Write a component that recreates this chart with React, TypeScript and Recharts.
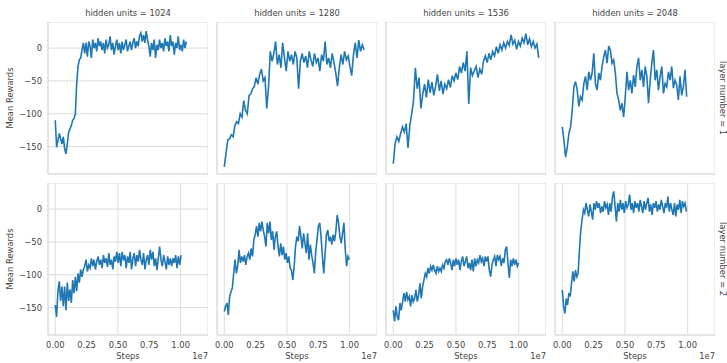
import { LineChart, Line, XAxis, YAxis, CartesianGrid } from "recharts";

// facet values
const hiddenUnits = [1024, 1280, 1536, 2048];
const layerNumbers = [1, 2];
const xTicks = [0, 0.25, 0.5, 0.75, 1.0];
const yTicks = [-150, -100, -50, 0];

// mean rewards, layer number = 1
const l1h1024 = [
  -110, -151, -141, -130, -138, -146, -135, -153, -161, -146,
  -128, -123, -118, -110, -107, -100, -54, -28, -18, -15,
  -3, 8, -8, 8, -13, 10, 3, -15, 13, 0,
  8, -5, 15, 3, 10, -3, 8, -8, 13, 0,
  5, 18, -3, 8, -10, 3, 13, -3, 8, -8,
  10, -3, 5, 13, -5, 3, 10, -3, 8, 15,
  0, 10, 3, 18, 23, 10, 20, 8, 26, 13,
  3, -13, 8, -3, 13, -15, 5, -3, 13, 0,
  8, -5, 15, 3, 10, -5, 20, 3, 10, -10,
  8, 0, 18, -3, 5, -5, 13, 0, 10,
];
const l1h1280 = [
  -181, -160, -140, -138, -132, -135, -118, -112, -115, -100,
  -105, -80, -95, -100, -72, -70, -62, -58, -45, -55,
  -40, -32, -50, -45, -92, -60, -5, -20, -8, 10,
  -25, -10, -30, 8, -15, -35, -5, -20, -10, -25,
  -5, -15, -62, -20, -8, -22, -12, -30, -5, -18,
  -28, -8, -22, -15, -35, -10, -20, 10, -25, -15,
  -30, -8, -22, -38, -58, -30, -10, -25, -5, -18,
  -12, -28, -42, -10, 8, -15, 12, -5, 5, -3,
];
const l1h1536 = [
  -176, -145, -135, -142, -130, -120, -128, -115, -152, -118,
  -100, -80, -30, -62, -45, -92, -70, -55, -75, -48,
  -68, -52, -72, -58, -40, -65, -50, -70, -55, -62,
  -48, -60, -42, -50, -38, -48, -28, -38, -22, -35,
  -5, -85, -30, -42, -35, -28, -45, -32, -40, -20,
  -12, -22, -8, -18, -5, -12, 2, -8, 5, -3,
  8, 0, 10, 4, 20, 6, 12, -2, 10, 3,
  15, 8, 22, 5, 14, 2, 10, 0, 6, -15,
];
const l1h2048 = [
  -120, -141, -166, -151, -130, -120, -95, -59, -51, -64,
  -89, -74, -79, -54, -43, -64, -36, -49, -38, -8,
  -54, -64, -38, -49, -28, -13, -3, -23, 3, -3,
  -23, -18, -38, -69, -79, -95, -84, -105, -74, -36,
  -64, -49, -69, -41, -59, -28, -15, -49, -33, -59,
  -28, -43, -84, -49, -23, -3, -49, -33, -64, -43,
  -28, -69, -54, -59, -36, -49, -28, -61, -49, -56,
  -79, -43, -72, -59, -33, -74,
];

// mean rewards, layer number = 2
const l2h1024 = [
  -146, -164, -125, -110, -140, -118, -148, -118, -154, -112,
  -140, -122, -143, -108, -128, -103, -125, -98, -112, -92,
  -103, -92, -87, -77, -95, -85, -90, -75, -87, -77,
  -92, -80, -72, -85, -77, -90, -70, -82, -75, -88,
  -67, -85, -77, -92, -72, -80, -65, -82, -67, -87,
  -65, -78, -70, -90, -72, -82, -65, -92, -75, -67,
  -87, -70, -80, -62, -77, -85, -67, -92, -77, -70,
  -85, -62, -77, -65, -87, -75, -93, -75, -57, -77,
  -87, -70, -80, -92, -72, -85, -75, -87, -75, -82,
  -70, -90, -72, -85, -70,
];
const l2h1280 = [
  -156, -148, -143, -161, -133, -126, -120, -98, -77, -98,
  -87, -62, -82, -72, -80, -70, -85, -72, -67, -77,
  -60, -72, -47, -39, -26, -42, -21, -34, -19, -32,
  -42, -57, -21, -37, -19, -47, -34, -62, -42, -34,
  -57, -72, -52, -70, -57, -77, -67, -82, -72, -90,
  -93, -108, -87, -57, -42, -49, -26, -42, -60, -37,
  -52, -67, -37, -77, -54, -70, -82, -98, -65, -47,
  -26, -21, -42, -72, -98, -67, -39, -32, -49, -42,
  -54, -39, -49, -34, -9, -21, -42, -52, -37, -21,
  -62, -87, -72, -77,
];
const l2h1536 = [
  -154, -171, -148, -164, -169, -143, -154, -141, -128, -141,
  -126, -138, -133, -148, -131, -141, -136, -123, -141, -131,
  -113, -136, -118, -108, -98, -103, -90, -98, -87, -93,
  -85, -93, -98, -87, -95, -90, -95, -85, -90, -80,
  -77, -85, -75, -82, -93, -77, -87, -75, -85, -77,
  -93, -80, -72, -87, -80, -72, -90, -82, -93, -77,
  -95, -75, -87, -77, -82, -70, -80, -75, -87, -72,
  -80, -72, -93, -103, -85, -77, -72, -87, -70, -77,
  -72, -87, -75, -82, -62, -57, -82, -105, -77, -87,
  -75, -85, -77, -87, -82,
];
const l2h2048 = [
  -123, -148, -159, -136, -146, -128, -133, -113, -95, -110,
  -93, -103, -98, -62, -32, -16, -1, -6, 9, -1,
  -11, 7, -4, -16, 9, -1, 12, 2, 9, -6,
  4, -4, 12, 2, 7, -9, 9, -4, 19, 27,
  4, -19, 9, -4, 14, -1, 9, -6, 12, 2,
  7, 22, -1, 9, -6, 12, 2, 9, -4, 14,
  4, -6, 12, -1, 9, 17, -4, 7, -9, 9,
  2, 12, -4, 7, -1, 14, 4, -6, 9, 2,
  19, -4, 9, -1, -9, 9, -11, 7, -1, 14,
  -6, 12, 4, 9, -4,
];

// last step of each run (x 1e7)
const l1End = [1.045, 1.115, 1.16, 0.992];
const l2End = [1.003, 0.997, 1.0, 0.99];

const runs = [
  [l1h1024, l1h1280, l1h1536, l1h2048],
  [l2h1024, l2h1280, l2h1536, l2h2048],
];
const ends = [l1End, l2End];

const COL_LEFT = [48, 217, 386, 555];
const ROW_TOP = [22, 183];
const PLOT_W = 160;
const PLOT_H = 152;
const Y_W = 44;
const X_H = 20;
const GRID = "#dcdcdc";
const TEXT = "#444";
const FONT = "DejaVu Sans";
const FS = 8.4;

const tickStyle = { fontSize: FS, fill: TEXT, fontFamily: FONT };
const fmtY = (v: number) => (v < 0 ? "\u2212" + Math.abs(v) : String(v));

function Panel({ row, col }: { row: number; col: number }) {
  const values = runs[row][col];
  const end = ends[row][col];
  const data = values.map((v, i) => ({ step: (i * end) / (values.length - 1), reward: v }));
  return (
    <div style={{ position: "absolute", left: COL_LEFT[col] - Y_W, top: ROW_TOP[row] }}>
      <LineChart width={Y_W + PLOT_W} height={PLOT_H + X_H} data={data} margin={{ top: 0, right: 0, bottom: 0, left: 0 }}>
        <CartesianGrid stroke={GRID} />
        <XAxis
          type="number"
          dataKey="step"
          domain={[-0.058, 1.218]}
          ticks={xTicks}
          allowDataOverflow
          height={X_H}
          tickLine={false}
          axisLine={{ stroke: GRID }}
          tick={row === 1 ? tickStyle : false}
          tickFormatter={(v: number) => v.toFixed(2)}
          tickSize={5}
          tickMargin={2}
        />
        <YAxis
          type="number"
          domain={[-191.7, 39.7]}
          ticks={yTicks}
          allowDataOverflow
          width={Y_W}
          tickLine={false}
          axisLine={{ stroke: GRID }}
          tick={col === 0 ? tickStyle : false}
          tickFormatter={fmtY}
          tickSize={4}
          tickMargin={2}
        />
        <Line type="linear" dataKey="reward" stroke="#1f77b4" strokeWidth={1.6} dot={false} isAnimationActive={false} />
      </LineChart>
    </div>
  );
}

function Txt({ x, y, rot = 0, anchor = "center", children }: { x: number; y: number; rot?: number; anchor?: string; children: any }) {
  const tx = anchor === "end" ? "-100%" : "-50%";
  return (
    <div
      style={{
        position: "absolute",
        left: x,
        top: y,
        transform: `translate(${tx}, -50%) rotate(${rot}deg)`,
        whiteSpace: "nowrap",
        fontSize: FS,
        lineHeight: 1,
        color: TEXT,
        fontFamily: FONT,
      }}
    >
      {children}
    </div>
  );
}

export default function App() {
  return (
    <div style={{ position: "absolute", left: 0, top: 0, width: 727, height: 363, background: "#fff", overflow: "hidden" }}>
      {layerNumbers.map((_, r) => hiddenUnits.map((__, c) => <Panel key={`${r}-${c}`} row={r} col={c} />))}
      {hiddenUnits.map((h, c) => (
        <Txt key={`t${c}`} x={COL_LEFT[c] + PLOT_W / 2} y={13}>
          hidden units = {h}
        </Txt>
      ))}
      {layerNumbers.map((l, r) => (
        <Txt key={`r${r}`} x={722.5} y={ROW_TOP[r] + PLOT_H / 2} rot={90}>
          layer number = {l}
        </Txt>
      ))}
      {layerNumbers.map((_, r) => (
        <Txt key={`y${r}`} x={10} y={ROW_TOP[r] + PLOT_H / 2} rot={-90}>
          Mean Rewards
        </Txt>
      ))}
      {hiddenUnits.map((_, c) => (
        <Txt key={`s${c}`} x={COL_LEFT[c] + PLOT_W / 2} y={356}>
          Steps
        </Txt>
      ))}
      {hiddenUnits.map((_, c) => (
        <Txt key={`e${c}`} x={COL_LEFT[c] + PLOT_W} y={356} anchor="end">
          1e7
        </Txt>
      ))}
    </div>
  );
}
